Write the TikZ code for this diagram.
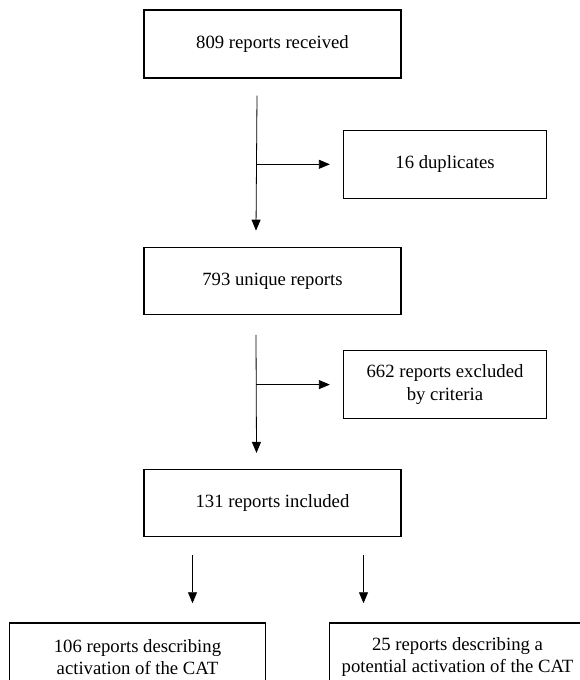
\documentclass[tikz,border=0pt]{standalone}
\usepackage{fontspec}
\setmainfont{Liberation Serif}
\usetikzlibrary{positioning,arrows.meta}

\begin{document}
\begin{tikzpicture} [
    x = 1pt, y = 1pt,
    mainbox/.style = {draw,
                      line width=1.3pt,
                      minimum width=257pt,
                      minimum height=67pt,
                      align=center,
                      font=\fontsize{18.7}{22.5}\selectfont},
    sidebox/.style = {mainbox,
                      minimum width=203pt,
                      minimum height=68pt},
    endbox/.style  = {mainbox,
                      minimum width=256pt,
                      minimum height=68pt},
    arr/.style     = {line width=0.8pt,
                      -{Triangle[length=11pt,width=9pt]}}
]
\useasboundingbox (0,0) rectangle (580,-680);

\node (rec) [mainbox, minimum height=68pt] at (272.5,-44) {809 reports received};
\node (dup) [sidebox, below=51pt of rec, xshift=172.5pt] {16 duplicates};
\node (uniq) [mainbox, below=168pt of rec] {793 unique reports};
\node (excl) [sidebox, below=35pt of uniq, xshift=172.5pt] {
662 reports excluded \\
by criteria
};
\node (incl) [mainbox, below=154pt of uniq] {131 reports included};
\node (act) [endbox, below=85pt of incl, xshift=-135pt] {
106 reports describing \\
activation of the CAT
};
\node (pot) [endbox, below=85pt of incl, xshift=185pt] {
25 reports describing a \\
potential activation of the CAT
};

% first step
\coordinate (a1) at ([xshift=-15.5pt, yshift=-17pt]rec.south);
\coordinate (a2) at ([xshift=-16.5pt, yshift=16pt]uniq.north);
\draw[arr] (a1) -- (a2);
\coordinate (a3) at (a1 |- dup.west);
\coordinate (a4) at ([xshift=-13pt]dup.west);
\draw[arr] (a3) -- (a4);

% second step
\coordinate (b1) at ([xshift=-16.5pt, yshift=-20pt]uniq.south);
\coordinate (b2) at ([xshift=-16pt, yshift=16pt]incl.north);
\draw[arr] (b1) -- (b2);
\coordinate (b3) at (b1 |- excl.west);
\coordinate (b4) at ([xshift=-13pt]excl.west);
\draw[arr] (b3) -- (b4);

% split
\coordinate (c1) at ([xshift=-80pt, yshift=-18pt]incl.south);
\coordinate (c2) at (c1 |- act.north);
\draw[arr] (c1) -- ([yshift=19pt]c2);
\coordinate (c3) at ([xshift=91pt, yshift=-18pt]incl.south);
\coordinate (c4) at (c3 |- pot.north);
\draw[arr] (c3) -- ([yshift=19pt]c4);
\end{tikzpicture}
\end{document}
